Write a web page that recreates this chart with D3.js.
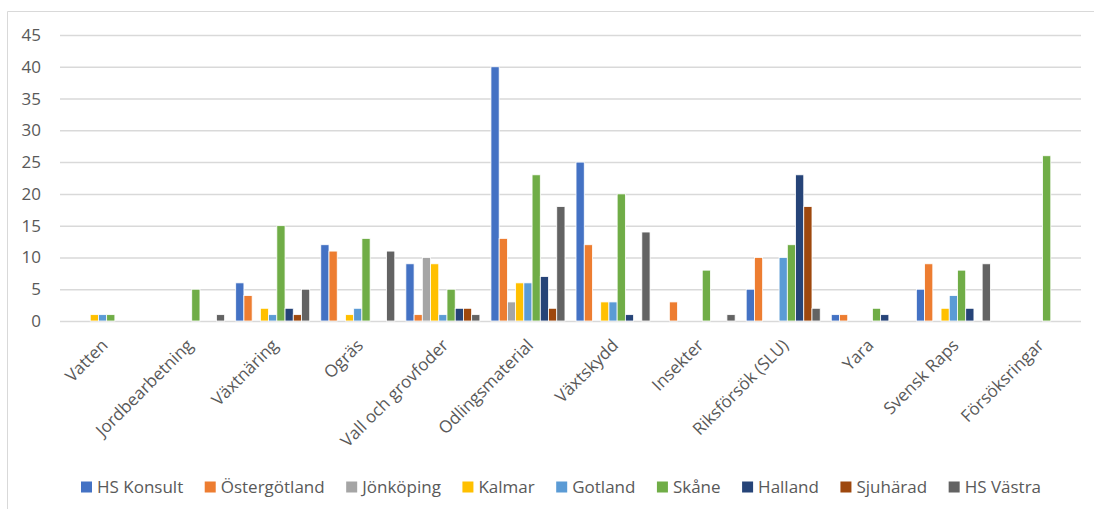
<!DOCTYPE html>
<html>
<head>
<meta charset="utf-8">
<script src="https://cdn.jsdelivr.net/npm/d3@7"></script>
<style>
  body { margin: 0; background: #fff; }
  svg text { font-family: "Open Sans", sans-serif; fill: #595959; }
</style>
</head>
<body>
<svg id="chart" width="1094" height="510"></svg>
<script>
const categories = ['Vatten', 'Jordbearbetning', 'Växtnäring', 'Ogräs', 'Vall och grovfoder',
    'Odlingsmaterial', 'Växtskydd', 'Insekter', 'Riksförsök (SLU)', 'Yara', 'Svensk Raps', 'Försöksringar'];
const seriesNames = ['HS Konsult', 'Östergötland', 'Jönköping', 'Kalmar', 'Gotland', 'Skåne', 'Halland', 'Sjuhärad', 'HS Västra'];
const seriesColors = ['#4472C4', '#ED7D31', '#A5A5A5', '#FFC000', '#5B9BD5', '#70AD47', '#264478', '#9E480E', '#636363'];

// one array per region, in category order
const hsKonsult   = [0, 0, 6, 12, 9, 40, 25, 0, 5, 1, 5, 0];
const ostergotland = [0, 0, 4, 11, 1, 13, 12, 3, 10, 1, 9, 0];
const jonkoping   = [0, 0, 0, 0, 10, 3, 0, 0, 0, 0, 0, 0];
const kalmar      = [1, 0, 2, 1, 9, 6, 3, 0, 0, 0, 2, 0];
const gotland     = [1, 0, 1, 2, 1, 6, 3, 0, 10, 0, 4, 0];
const skane       = [1, 5, 15, 13, 5, 23, 20, 8, 12, 2, 8, 26];
const halland     = [0, 0, 2, 0, 2, 7, 1, 0, 23, 1, 2, 0];
const sjuharad    = [0, 0, 1, 0, 2, 2, 0, 0, 18, 0, 0, 0];
const hsVastra    = [0, 1, 5, 11, 1, 18, 14, 1, 2, 0, 9, 0];
const yTicks = [0, 5, 10, 15, 20, 25, 30, 35, 40, 45];

const seriesValues = [hsKonsult, ostergotland, jonkoping, kalmar, gotland, skane, halland, sjuharad, hsVastra];

const svg = d3.select('#chart');
const plot = { left: 60, right: 1081, top: 35, bottom: 321 };
const fontSize = 17;

// frame of the chart area (only left and top edges show)
svg.append('path')
    .attr('d', `M7.5,509 V11.5 H1094`)
    .attr('fill', 'none')
    .attr('stroke', '#d9d9d9')
    .attr('stroke-width', 1);

const y = d3.scaleLinear().domain([0, 45]).range([plot.bottom, plot.top]);
const x0 = d3.scaleBand().domain(categories).range([plot.left, plot.right])
    .paddingInner(0.13).paddingOuter(0.065);
const x1 = d3.scaleBand().domain(seriesNames).range([0, x0.bandwidth()]);

// gridlines + y labels
const yAxis = svg.append('g')
    .attr('transform', `translate(${plot.left},0)`)
    .call(d3.axisLeft(y).tickValues(yTicks).tickSize(-(plot.right - plot.left)).tickPadding(19));
yAxis.select('.domain').remove();
yAxis.selectAll('.tick line').attr('stroke', '#d9d9d9').attr('stroke-width', 1.5);
yAxis.selectAll('.tick text').attr('font-size', fontSize).attr('fill', '#595959')
    .style('font-family', '"Open Sans", sans-serif');

// bars
const rows = [];
categories.forEach((c, i) => {
    seriesNames.forEach((s, j) => {
        rows.push({ cat: c, series: s, value: seriesValues[j][i], color: seriesColors[j] });
    });
});

svg.append('g').selectAll('rect')
    .data(rows.filter(d => d.value > 0))
    .enter().append('rect')
    .attr('x', d => x0(d.cat) + x1(d.series))
    .attr('y', d => y(d.value))
    .attr('width', x1.bandwidth())
    .attr('height', d => y(0) - y(d.value))
    .attr('fill', d => d.color)
    .attr('stroke', '#fff')
    .attr('stroke-width', 0.8);

// x labels rotated
svg.append('g').selectAll('text')
    .data(categories)
    .enter().append('text')
    .attr('transform', d => `translate(${x0(d) + x0.bandwidth() / 2 - 2},${plot.bottom + 17}) rotate(-45)`)
    .attr('text-anchor', 'end')
    .attr('dy', '0.7em')
    .attr('font-size', fontSize)
    .text(d => d);

// legend
const legend = svg.append('g').attr('transform', 'translate(81,487)');
let lx = 0;
seriesNames.forEach((s, j) => {
    const g = legend.append('g').attr('transform', `translate(${lx},0)`);
    g.append('rect').attr('x', 0).attr('y', -5.5).attr('width', 11).attr('height', 11).attr('fill', seriesColors[j]);
    const t = g.append('text').attr('x', 16).attr('dy', '0.35em').attr('font-size', fontSize).text(s);
    lx += 16 + t.node().getComputedTextLength() + 21.5;
});
</script>
</body>
</html>
